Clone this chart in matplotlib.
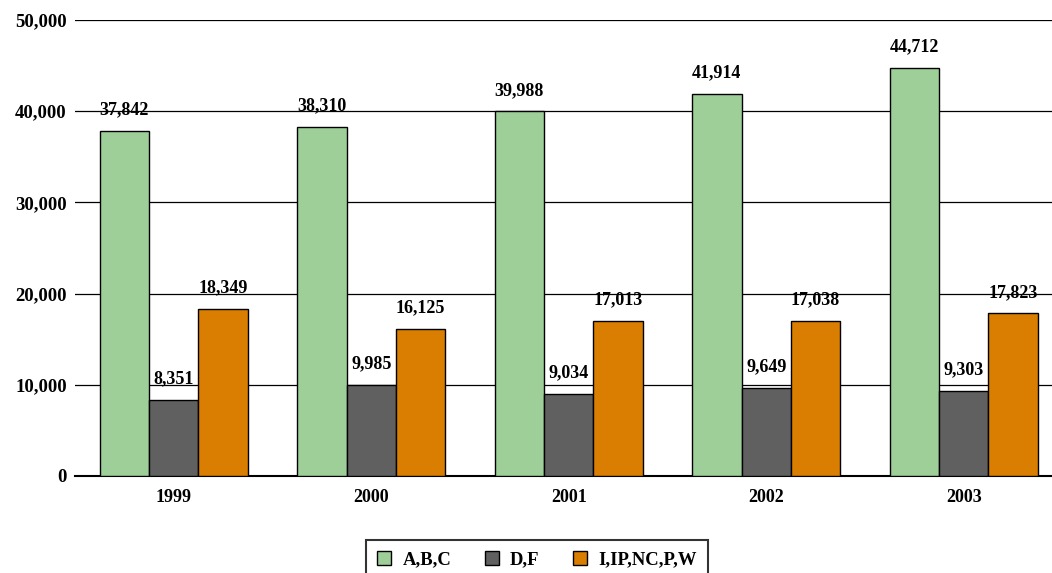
import matplotlib
matplotlib.use("Agg")
import matplotlib.pyplot as plt
import numpy as np

years = ["1999", "2000", "2001", "2002", "2003"]
series_names = ["A,B,C", "D,F", "I,IP,NC,P,W"]
abc = [37842, 38310, 39988, 41914, 44712]
df = [8351, 9985, 9034, 9649, 9303]
other = [18349, 16125, 17013, 17038, 17823]
colors = ["#9FCF98", "#606060", "#D97E00"]

plt.rcParams['font.family'] = ['Liberation Serif', 'DejaVu Serif']
plt.rcParams['font.weight'] = 'bold'

fig = plt.figure(figsize=(10.52, 5.73), dpi=100)
ax = fig.add_axes([75/1052, 1-476/573, 987.5/1052, 456/573])

x = np.arange(len(years))
w = 0.25
for i, (vals, name, c) in enumerate(zip([abc, df, other], series_names, colors)):
    bars = ax.bar(x + (i-1)*w, vals, width=w, color=c, edgecolor='black', linewidth=1.0, label=name, zorder=3)
    for b, v in zip(bars, vals):
        ax.annotate(f"{v:,}", (b.get_x()+b.get_width()/2, v), xytext=(0, 9), textcoords='offset points',
                    ha='center', va='bottom', fontsize=13, fontweight='bold', zorder=4)

ax.set_xlim(-0.5, len(years)-0.5)
ax.set_ylim(0, 50000)
ax.set_yticks(range(0, 50001, 10000))
ax.set_yticklabels([f"{t:,}" for t in range(0, 50001, 10000)], fontsize=13.5, fontweight='bold')
ax.set_xticks(x)
ax.set_xticklabels(years, fontsize=13, fontweight='bold')
ax.tick_params(axis='x', length=0, pad=9)
ax.tick_params(axis='y', length=0, pad=6)
ax.grid(axis='y', color='black', linewidth=0.9, zorder=0)
for s in ['top', 'right', 'left']:
    ax.spines[s].set_visible(False)
ax.spines['bottom'].set_linewidth(1.5)

leg = fig.legend(loc='center', bbox_to_anchor=(537/1052, 1-560/573), ncol=3, frameon=True,
                 fancybox=False, edgecolor='black', fontsize=13.4, handlelength=0.75, handleheight=0.75,
                 handletextpad=0.6, columnspacing=1.8, borderpad=0.6)
leg.get_frame().set_linewidth(1.5)
for t in leg.get_texts():
    t.set_fontweight('bold')

fig.savefig("out.png", dpi=100)
